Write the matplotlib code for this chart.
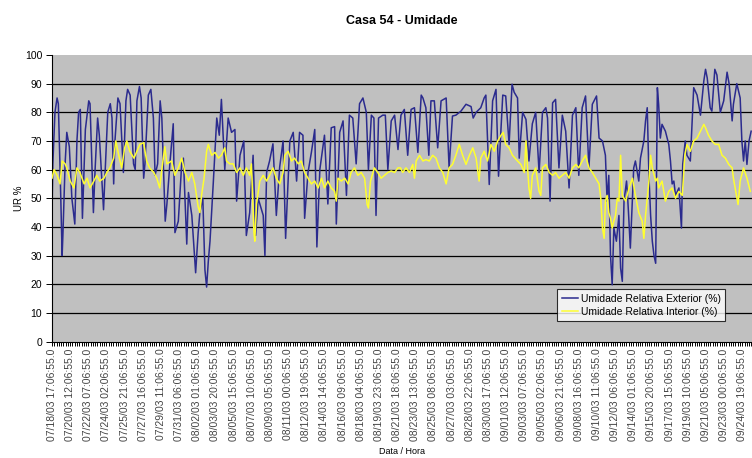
import matplotlib
matplotlib.use('Agg')
import matplotlib.pyplot as plt
from matplotlib.ticker import MultipleLocator

plt.rcParams['font.family'] = ['Liberation Sans', 'DejaVu Sans']

# hours since 07/18/03 17:06:55 and relative humidity
ext_hours = [0, 2, 7, 12, 15, 20, 24, 26, 31, 35, 41, 47, 54, 59, 63, 67, 72, 79, 87, 90,
             98, 102, 108, 112, 122, 126, 132, 138, 142, 146, 149, 156, 161, 169, 175, 179,
             185, 193, 197, 201, 207, 211, 217, 220, 228, 234, 240, 244, 250, 256, 260, 268,
             272, 279, 287, 291, 299, 307, 311, 319, 323, 331, 340, 346, 350, 357, 362, 366,
             370, 374, 382, 390, 396, 401, 409, 417, 425, 433, 437, 445, 454, 460, 468, 476,
             482, 488, 500, 504, 508, 515, 523, 531, 539, 547, 553, 563, 571, 579, 586, 594,
             598, 606, 614, 622, 627, 634, 645, 653, 661, 669, 673, 681, 689, 697, 704, 712,
             720, 728, 736, 744, 749, 756, 762, 767, 773, 783, 789, 795, 803, 811, 819, 826,
             834, 842, 850, 858, 866, 874, 878, 885, 892, 897, 905, 913, 921, 933, 940, 948,
             956, 968, 980, 992, 997, 1004, 1015, 1023, 1027, 1035, 1043, 1051, 1057, 1067,
             1074, 1082, 1089, 1094, 1102, 1106, 1114, 1122, 1129, 1137, 1145, 1153, 1161,
             1169, 1173, 1179, 1185, 1192, 1200, 1208, 1216, 1224, 1232, 1240, 1247, 1255,
             1263, 1271, 1279, 1289, 1295, 1303, 1310, 1314, 1318, 1322, 1326, 1330, 1336,
             1342, 1346, 1350, 1354, 1360, 1362, 1365, 1369, 1377, 1381, 1389, 1393, 1401,
             1405, 1409, 1413, 1417, 1421, 1425, 1429, 1433, 1436, 1440, 1444, 1452, 1460,
             1464, 1468, 1472, 1476, 1484, 1490, 1493, 1499, 1503, 1511, 1515, 1519, 1527,
             1535, 1543, 1547, 1551, 1558, 1562, 1569, 1574, 1582, 1590, 1598, 1603, 1610,
             1613, 1621, 1629, 1633, 1637, 1641, 1645, 1650, 1655]
ext_rh = [45, 62, 80, 85, 83, 55, 30, 38, 62, 73, 68, 50, 41, 70, 80, 81, 43, 74, 84, 83,
          45, 60, 78, 72, 46, 60, 80, 83, 78, 55, 70, 85, 83, 59, 84, 88,
          86, 62, 60, 84, 89, 85, 57, 62, 86, 88, 78, 58, 62, 84, 78, 42,
          48, 62, 76, 38, 42, 62, 64, 34, 52, 44, 24, 38, 45, 50, 25, 19,
          28, 35, 56, 78, 72, 84.5, 60, 78, 73, 74, 49, 65, 70, 37, 45, 65,
          37, 50, 44, 30, 59, 63, 69, 44, 61, 70, 36, 70, 73, 56, 73, 72,
          43, 59, 66, 74, 33, 60, 72, 48, 74.6, 75, 41, 73, 77, 51, 79, 78,
          62, 83, 85, 80, 60, 79, 78, 44, 78, 79, 79, 60, 77, 79, 67, 79,
          81, 65, 81, 81.6, 66, 86, 85, 81.6, 65, 84, 84, 67.6, 84, 85, 60.6, 78.7,
          79, 80.4, 82.8, 82, 78, 80, 81.6, 85, 86, 54.8, 84, 88, 57.7, 86,
          85.7, 68.8, 89.8, 87, 85, 64, 80, 77.5, 63, 76, 80, 59, 80,
          81.6, 78, 49, 83.3, 84.5, 60.6, 79, 73.4, 53.6, 79, 81.6, 58, 81.6,
          85.7, 60.6, 82.8, 85.7, 71, 70, 65, 49, 58, 30.3, 19.8, 39.6, 35,
          44, 25.6, 21, 49, 56, 52, 44, 32.6, 60.6, 63, 56, 64, 70,
          77, 81.6, 58, 44, 35, 30, 27.3, 88.6, 82.8, 71, 75.8, 73.4, 68.8,
          63, 55, 56, 51, 53.6, 39.6, 61.8, 70, 65, 63, 75.8, 88.6, 86,
          79, 91, 95, 92, 81.6, 80.4, 95, 93, 80, 84, 94, 89.8, 77,
          82.8, 90, 85, 70, 63, 70, 61.8, 70, 73.4]

int_hours = [0, 5, 12, 19, 24, 31, 35, 43, 52, 59, 66, 76, 83, 90, 99, 106, 113, 123, 130,
             137, 146, 151, 158, 165, 172, 177, 184, 194, 201, 208, 217, 224, 231, 241, 248,
             255, 260, 267, 272, 283, 291, 299, 307, 315, 323, 331, 338, 346, 350, 354, 360,
             366, 370, 378, 386, 394, 401, 409, 413, 421, 429, 437, 445, 453, 460, 468, 472,
             478, 480, 484, 492, 500, 508, 515, 523, 531, 539, 547, 551, 559, 567, 574, 583,
             590, 598, 606, 614, 622, 630, 638, 645, 653, 661, 669, 673, 677, 685, 693, 701,
             708, 716, 724, 732, 740, 746, 749, 754, 763, 771, 779, 787, 795, 803, 811, 819,
             825, 830, 838, 846, 854, 858, 862, 870, 878, 885, 893, 901, 909, 917, 925, 929,
             933, 940, 948, 956, 964, 972, 980, 988, 996, 1004, 1011, 1015, 1023, 1031, 1039,
             1047, 1055, 1063, 1068, 1074, 1082, 1090, 1096, 1102, 1110, 1118, 1122, 1126,
             1129, 1133, 1137, 1145, 1153, 1157, 1161, 1169, 1177, 1185, 1192, 1200, 1208,
             1216, 1224, 1232, 1240, 1247, 1255, 1263, 1271, 1279, 1287, 1295, 1299, 1303,
             1307, 1310, 1314, 1318, 1322, 1326, 1330, 1334, 1338, 1342, 1346, 1350, 1358,
             1366, 1374, 1381, 1389, 1397, 1401, 1405, 1413, 1417, 1421, 1429, 1433, 1436,
             1444, 1452, 1460, 1468, 1476, 1484, 1492, 1498, 1503, 1511, 1519, 1527, 1535,
             1543, 1547, 1554, 1562, 1570, 1578, 1586, 1594, 1602, 1610, 1613, 1617, 1624,
             1629, 1637, 1645, 1653]
int_rh = [57, 60, 58, 55, 63, 62, 60.6, 56, 53.6, 60.6, 59, 55, 57, 53.6, 56, 58, 56, 57, 59,
          60.6, 64, 70, 65, 60.6, 67.6, 70, 66.4, 64, 66.4, 68.8, 69.4, 63, 60.6, 59, 57,
          53.6, 60, 68, 62, 63, 58, 60.6, 64, 59, 56, 59, 55, 47, 45, 51, 57,
          66.4, 68.8, 65, 66, 64, 65, 67.6, 63, 62, 62, 59, 60.6, 58, 60.6, 58, 62,
          38, 35, 48, 56, 58, 56, 58, 60.6, 57, 55, 59, 65, 66.4, 63, 64, 62,
          63, 59, 57, 55, 56, 53.6, 57, 53.6, 56, 53.6, 52.4, 49, 57, 56, 57, 55,
          59, 60.6, 58, 59, 57, 47.8, 46.6, 56, 60.6, 59, 57, 58, 59, 59.5, 59, 60.6,
          60.6, 59, 60.6, 59, 61.8, 57, 63, 65, 63, 63.5, 63, 65, 64, 60.6, 59, 57,
          55, 60.6, 61.8, 65, 68.8, 65, 61.8, 65, 67.6, 64, 56, 64, 66.4, 63, 68.8,
          66.4, 70, 72, 73, 68.8, 67.6, 65, 64, 63, 61.8, 59, 70, 60,
          53.6, 50, 58, 60.6, 52.4, 51, 60.6, 61.8, 59, 58, 59, 57, 58,
          59, 57, 60.6, 61.8, 60.6, 63, 65, 60.6, 59, 57, 55, 50, 39.6,
          36, 49, 51, 45, 43, 39.6, 42, 44, 50, 49, 65, 51, 49,
          53.6, 57, 51, 45, 42, 36, 44, 56, 65, 60.6, 56, 57, 53.6,
          56, 49, 52.4, 53.6, 50, 52.4, 51, 65, 68.8, 66.4, 70, 71, 73.4,
          75.8, 74.6, 72, 70, 68.8, 68.8, 65, 64, 61.8, 60.6, 57, 53.6, 47.8,
          56, 60.6, 57, 52.4]

label_hours = list(range(0, 1635, 43))
label_text = ['07/18/03 17:06:55.0', '07/20/03 12:06:55.0', '07/22/03 07:06:55.0',
              '07/24/03 02:06:55.0', '07/25/03 21:06:55.0', '07/27/03 16:06:55.0',
              '07/29/03 11:06:55.0', '07/31/03 06:06:55.0', '08/02/03 01:06:55.0',
              '08/03/03 20:06:55.0', '08/05/03 15:06:55.0', '08/07/03 10:06:55.0',
              '08/09/03 05:06:55.0', '08/11/03 00:06:55.0', '08/12/03 19:06:55.0',
              '08/14/03 14:06:55.0', '08/16/03 09:06:55.0', '08/18/03 04:06:55.0',
              '08/19/03 23:06:55.0', '08/21/03 18:06:55.0', '08/23/03 13:06:55.0',
              '08/25/03 08:06:55.0', '08/27/03 03:06:55.0', '08/28/03 22:06:55.0',
              '08/30/03 17:06:55.0', '09/01/03 12:06:55.0', '09/03/03 07:06:55.0',
              '09/05/03 02:06:55.0', '09/06/03 21:06:55.0', '09/08/03 16:06:55.0',
              '09/10/03 11:06:55.0', '09/12/03 06:06:55.0', '09/14/03 01:06:55.0',
              '09/15/03 20:06:55.0', '09/17/03 15:06:55.0', '09/19/03 10:06:55.0',
              '09/21/03 05:06:55.0', '09/23/03 00:06:55.0', '09/24/03 19:06:55.0']
y_ticks = [0, 10, 20, 30, 40, 50, 60, 70, 80, 90, 100]

fig = plt.figure(figsize=(7.52, 4.58), dpi=100)
ax = fig.add_axes([52 / 752, 1 - 341.5 / 458, 700 / 752, 286.5 / 458])
ax.set_facecolor('#c0c0c0')

ax.hlines(y_ticks[1:-1], 0, 1, transform=ax.get_yaxis_transform(), color='black', lw=0.9, zorder=1)

ax.plot(ext_hours, ext_rh, color='#2b2b8e', lw=1.1, label='Umidade Relativa Exterior (%)', zorder=2)
ax.plot(int_hours, int_rh, color='#ffff30', lw=1.1, label='Umidade Relativa Interior (%)', zorder=3)

ax.set_xlim(0, 1657)
ax.set_ylim(0, 100)
ax.set_yticks(y_ticks)
ax.set_xticks(label_hours)
ax.set_xticklabels(label_text, rotation=90, fontsize=7.5, color='#444444')
ax.xaxis.set_minor_locator(MultipleLocator(43 / 8))
ax.tick_params(axis='x', which='both', length=3, width=0.7, pad=2)
ax.tick_params(axis='y', length=4, width=0.7, labelsize=7.5, pad=3)

for side in ['top', 'right']:
    ax.spines[side].set_visible(False)
for side in ['left', 'bottom']:
    ax.spines[side].set_linewidth(0.8)

ax.set_ylabel('UR %', fontsize=7, labelpad=1)
ax.set_xlabel('Data / Hora', fontsize=6.5, labelpad=4)
ax.set_title('Casa 54 - Umidade', fontsize=9, fontweight='bold', pad=22)

leg = ax.legend(loc='lower right', bbox_to_anchor=(0.962, 0.07), borderaxespad=0, fontsize=7.5,
                frameon=True, fancybox=False, handlelength=1.5, handletextpad=0.3,
                borderpad=0.45, labelspacing=0.3)
leg.get_frame().set_edgecolor('black')
leg.get_frame().set_linewidth(0.8)

fig.savefig('out.png', dpi=100)
